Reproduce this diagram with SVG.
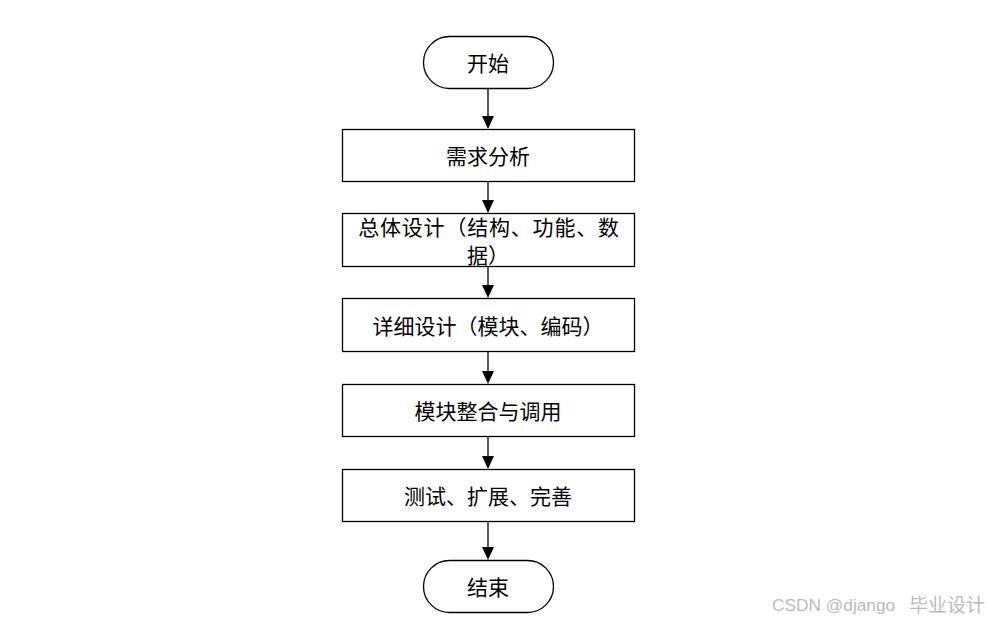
<svg xmlns="http://www.w3.org/2000/svg" width="987" height="622" viewBox="0 0 987 622">
<style>
.n{fill:#fff;stroke:#000;stroke-width:1.3}
.t{font-family:"Noto Sans CJK SC","Noto Sans",sans-serif;font-size:21px;fill:#000;text-anchor:middle;dominant-baseline:central}
.l{stroke:#000;stroke-width:1.3;fill:none}
.h{fill:#000}
.w{font-family:"Liberation Sans","Noto Sans CJK SC",sans-serif;font-size:17px;fill:#bbb;dominant-baseline:central}
</style>
<rect width="987" height="622" fill="#fff"/>
<g id="connectors">
<line class="l" x1="488" y1="88" x2="488" y2="117"/>
<path class="h" d="M482,116 L494,116 L488,129 Z"/>
<line class="l" x1="488" y1="181" x2="488" y2="201"/>
<path class="h" d="M482,200 L494,200 L488,213 Z"/>
<line class="l" x1="488" y1="266" x2="488" y2="286"/>
<path class="h" d="M482,285 L494,285 L488,298 Z"/>
<line class="l" x1="488" y1="351" x2="488" y2="372"/>
<path class="h" d="M482,371 L494,371 L488,384 Z"/>
<line class="l" x1="488" y1="436" x2="488" y2="457"/>
<path class="h" d="M482,456 L494,456 L488,469 Z"/>
<line class="l" x1="488" y1="521" x2="488" y2="548"/>
<path class="h" d="M482,547 L494,547 L488,560 Z"/>
</g>
<g id="start">
<rect class="n" x="423.5" y="36.5" width="130" height="52" rx="26" ry="26"/>
<text class="t" x="488" y="62">开始</text>
</g>
<g id="n1">
<rect class="n" x="342.5" y="129.5" width="292" height="52"/>
<text class="t" x="488" y="155">需求分析</text>
</g>
<g id="n2">
<rect class="n" x="342.5" y="213.5" width="292" height="53"/>
<text class="t" x="489" y="226" letter-spacing="0.8">总体设计（结构、功能、数</text>
<text class="t" x="488" y="254">据）</text>
</g>
<g id="n3">
<rect class="n" x="342.5" y="298.5" width="292" height="53"/>
<text class="t" x="488" y="325">详细设计（模块、编码）</text>
</g>
<g id="n4">
<rect class="n" x="342.5" y="384.5" width="292" height="52"/>
<text class="t" x="488" y="410">模块整合与调用</text>
</g>
<g id="n5">
<rect class="n" x="342.5" y="469.5" width="292" height="52"/>
<text class="t" x="488" y="495">测试、扩展、完善</text>
</g>
<g id="end">
<rect class="n" x="423.5" y="560.5" width="130" height="52" rx="26" ry="26"/>
<text class="t" x="488" y="586">结束</text>
</g>
<text class="w" x="772" y="605" style="font-size:17.3px">CSDN @django</text>
<text class="w" x="985" y="605" text-anchor="end" style="font-size:19px">毕业设计</text>
</svg>
